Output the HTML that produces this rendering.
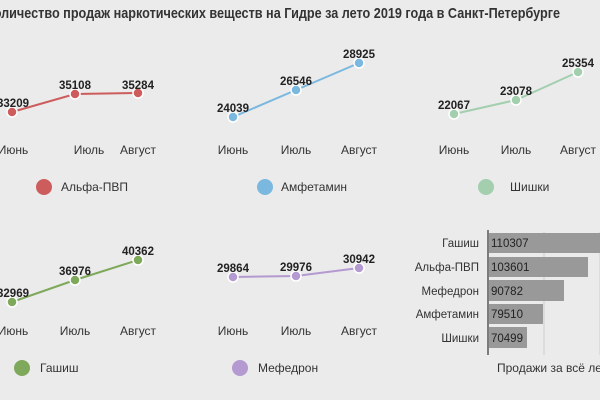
<!DOCTYPE html><html><head><meta charset="utf-8"><style>body{margin:0;background:#ebebeb}svg{display:block;font-family:"Liberation Sans",sans-serif}</style></head><body>
<svg width="600" height="400" viewBox="0 0 600 400">
<rect width="600" height="400" fill="#ebebeb"/>
<text x="-14" y="18" font-size="15" font-weight="bold" fill="#333" textLength="574" lengthAdjust="spacingAndGlyphs">Количество продаж наркотических веществ на Гидре за лето 2019 года в Санкт-Петербурге</text>
<g font-size="12" fill="#333" text-anchor="middle">
<text x="13" y="154">Июнь</text><text x="89" y="154">Июль</text><text x="138" y="154">Август</text>
<text x="233" y="154">Июнь</text><text x="296" y="154">Июль</text><text x="359" y="154">Август</text>
<text x="454" y="154">Июнь</text><text x="516" y="154">Июль</text><text x="578" y="154">Август</text>
<text x="13" y="335">Июнь</text><text x="75" y="335">Июль</text><text x="138" y="335">Август</text>
<text x="233" y="335">Июнь</text><text x="296" y="335">Июль</text><text x="359" y="335">Август</text>
</g>
<g stroke-width="2" fill="none">
<polyline points="12,112 75,94 138,93" stroke="#cd5c5c"/>
<polyline points="233,117 296,90 359,63" stroke="#7ab8e0"/>
<polyline points="454,114 516,100 578,72" stroke="#a3cfaf"/>
<polyline points="12,302 75,280 138,260" stroke="#7ea85a"/>
<polyline points="233,277 296,276 359,268" stroke="#b49ad0"/>
</g>
<g stroke="#fff" stroke-width="1.5">
<circle cx="12" cy="112" r="5" fill="#cd5c5c"/><circle cx="75" cy="94" r="5" fill="#cd5c5c"/><circle cx="138" cy="93" r="5" fill="#cd5c5c"/>
<circle cx="233" cy="117" r="5" fill="#7ab8e0"/><circle cx="296" cy="90" r="5" fill="#7ab8e0"/><circle cx="359" cy="63" r="5" fill="#7ab8e0"/>
<circle cx="454" cy="114" r="5" fill="#a3cfaf"/><circle cx="516" cy="100" r="5" fill="#a3cfaf"/><circle cx="578" cy="72" r="5" fill="#a3cfaf"/>
<circle cx="12" cy="302" r="5" fill="#7ea85a"/><circle cx="75" cy="280" r="5" fill="#7ea85a"/><circle cx="138" cy="260" r="5" fill="#7ea85a"/>
<circle cx="233" cy="277" r="5" fill="#b49ad0"/><circle cx="296" cy="276" r="5" fill="#b49ad0"/><circle cx="359" cy="268" r="5" fill="#b49ad0"/>
</g>
<g font-size="11.5" font-weight="bold" fill="#222" text-anchor="middle">
<text x="13" y="107">33209</text><text x="75" y="89">35108</text><text x="138" y="89">35284</text>
<text x="233" y="112">24039</text><text x="296" y="85">26546</text><text x="359" y="58">28925</text>
<text x="454" y="109">22067</text><text x="516" y="95">23078</text><text x="578" y="67">25354</text>
<text x="13" y="297">32969</text><text x="75" y="275">36976</text><text x="138" y="255">40362</text>
<text x="233" y="272">29864</text><text x="296" y="271">29976</text><text x="359" y="263">30942</text>
</g>
<g font-size="12" fill="#333">
<circle cx="44" cy="187" r="8" fill="#cd5c5c"/><text x="61" y="191">Альфа-ПВП</text>
<circle cx="265" cy="187" r="8" fill="#7ab8e0"/><text x="281" y="191">Амфетамин</text>
<circle cx="486" cy="187" r="8" fill="#a3cfaf"/><text x="510" y="191">Шишки</text>
<circle cx="22" cy="368" r="8" fill="#7ea85a"/><text x="40" y="372">Гашиш</text>
<circle cx="240" cy="368" r="8" fill="#b49ad0"/><text x="258" y="372">Мефедрон</text>
</g>
<line x1="544" y1="232" x2="544" y2="355" stroke="#ccc"/>
<line x1="600" y1="232" x2="600" y2="355" stroke="#ccc"/>
<g fill="#999">
<rect x="489" y="233" width="115" height="20"/>
<rect x="489" y="257" width="99" height="20"/>
<rect x="489" y="280" width="75" height="21"/>
<rect x="489" y="304" width="54" height="20"/>
<rect x="489" y="327" width="38" height="21"/>
</g>
<line x1="488" y1="230" x2="488" y2="355" stroke="#333" stroke-width="1.2"/>
<g font-size="11.5" fill="#222"><text x="491" y="247">110307</text><text x="491" y="271">103601</text><text x="491" y="295">90782</text><text x="491" y="318">79510</text><text x="491" y="342">70499</text></g>
<g font-size="11.5" fill="#333" text-anchor="end"><text x="479" y="247">Гашиш</text><text x="479" y="271">Альфа-ПВП</text><text x="479" y="295">Мефедрон</text><text x="479" y="318">Амфетамин</text><text x="479" y="342">Шишки</text></g>
<text x="497" y="372" font-size="12" fill="#333">Продажи за всё лето</text>
</svg></body></html>
